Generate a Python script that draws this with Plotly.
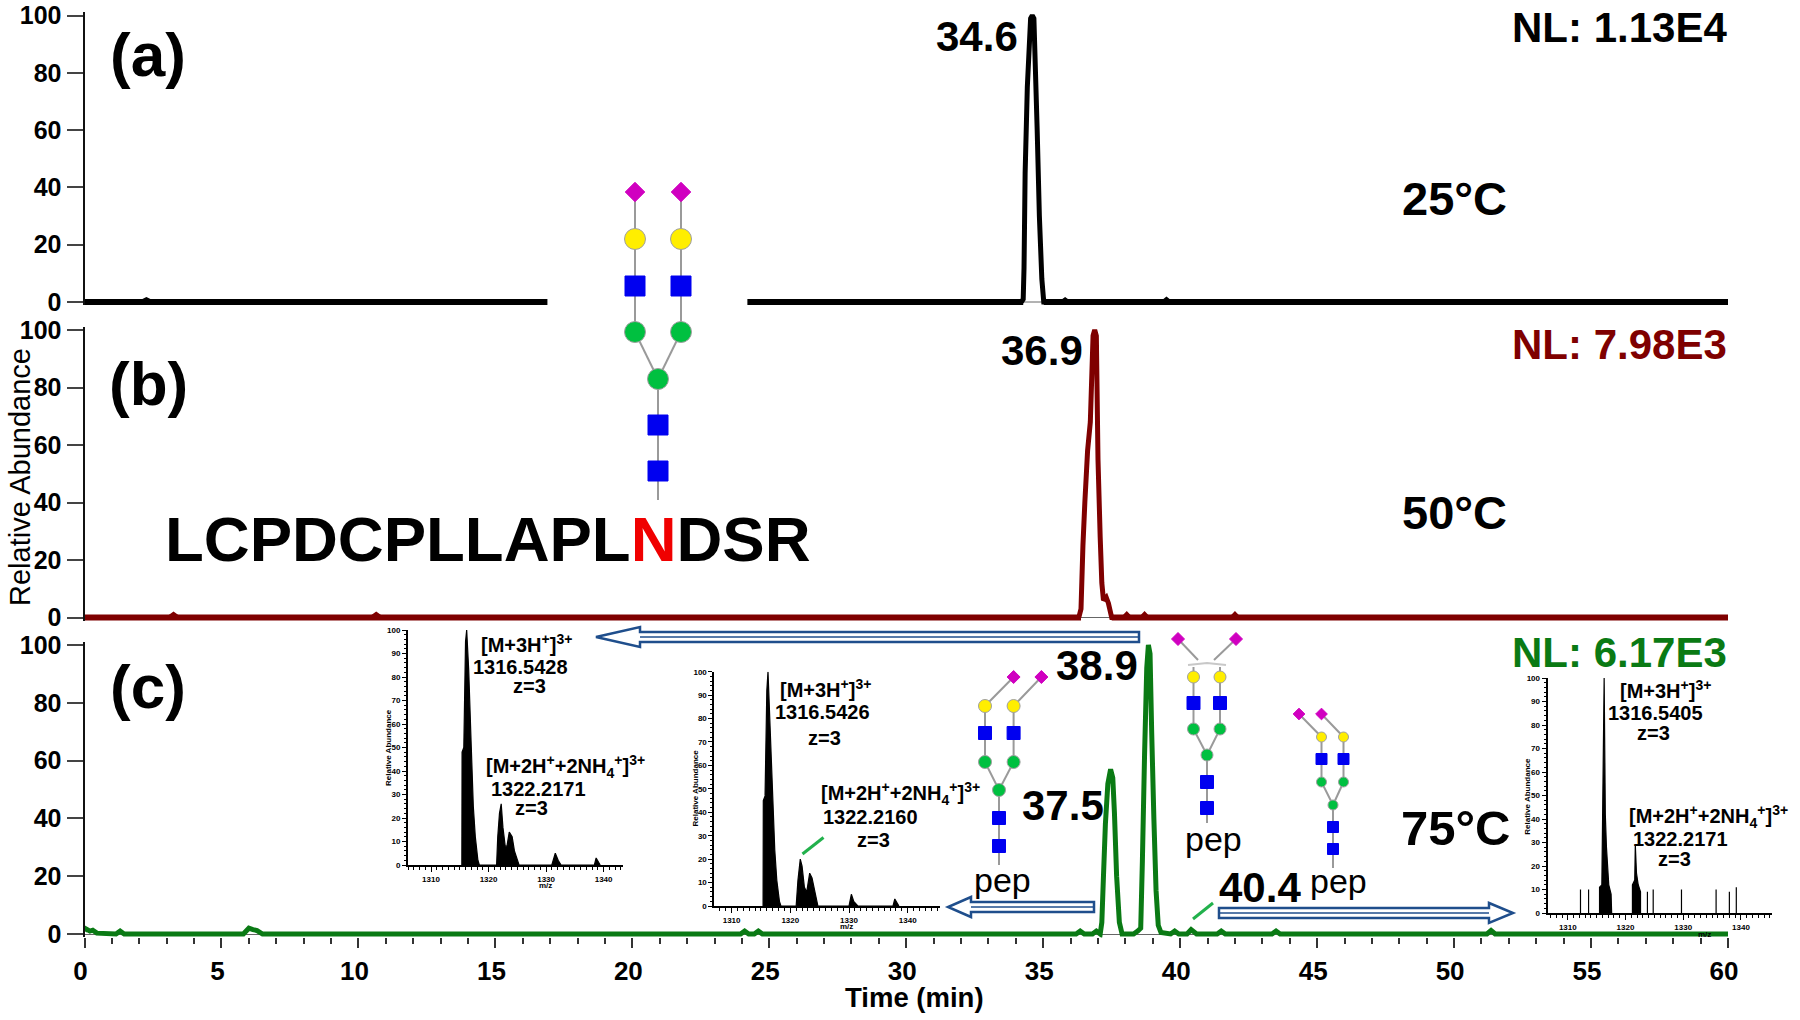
import plotly.graph_objects as go

W, H = 1800, 1020
FONT = "Liberation Sans"
BLACK, RED, GREEN = "#000000", "#7f0000", "#0a7a14"
ARROW = "#1f4e8c"

# ---- chromatogram data (time in min, relative abundance) ----
time_a = [2.1, 2.26, 2.42, None, 34.2, 34.27, 34.3, 34.34, 34.42, 34.54, 34.6, 34.66, 34.78, 34.86, 34.95, 35.02, 35.1, None,
          35.7, 35.8, 35.9, None, 39.4, 39.5, 39.6]
abund_a = [0, 0.8, 0, None, 0, 1, 12, 45, 75, 99, 100, 99, 60, 30, 8, 0, 0, None, 0, 0.7, 0, None, 0, 0.8, 0]
base_a_t = [0, 16.9, None, 24.2, 34.27, None, 35.02, 60]
floor_a_t = [34.2, 35.1]

time_b = [3.1, 3.25, 3.4, None, 10.5, 10.65, 10.8, None, 36.3, 36.38, 36.45, 36.52, 36.62, 36.72, 36.82, 36.88, 36.94, 37.0, 37.08, 37.14, 37.2,
          37.3, 37.38, 37.5, 37.6, None, 37.95, 38.05, 38.15, None, 38.6, 38.7, 38.8, None, 41.9, 42.0, 42.1]
abund_b = [0, 1, 0, None, 0, 1, 0, None, 0, 3, 25, 40, 58, 68, 98, 100, 98, 55, 28, 12, 6, 7, 5, 0, 0, None, 0, 1, 0, None, 0, 1, 0, None, 0, 1, 0]
base_b_t = [0, 36.38, None, 37.5, 60]

time_c = [0, 0.05, 0.2, 0.3, 0.45, 1.15, 1.3, 1.45, 5.8, 6.0, 6.15, 6.3, 6.5, 23.95, 24.1, 24.25, 24.45, 24.6, 24.75,
          36.2, 36.35, 36.5, 36.8, 36.94, 37.08, 37.14, 37.2, 37.27, 37.36, 37.46, 37.54, 37.6, 37.68, 37.78, 37.88, 38.3, 38.45, 38.56,
          38.62, 38.7, 38.78, 38.84, 38.9, 38.96, 39.04, 39.12, 39.2, 39.3, 39.65, 39.8, 39.95, 40.25, 40.4, 40.6, 41.35, 41.5, 41.65,
          43.35, 43.5, 43.65, 51.2, 51.35, 51.5, 60]
abund_c = [1, 1.8, 1, 1.3, 0.3, 0, 1, 0, 0, 2, 1.5, 1.2, 0, 0, 1, 0, 0, 1, 0,
           0, 1, 0, 0, 1, 0, 4, 20, 38, 52, 57, 54, 42, 20, 4, 0, 0, 1, 2,
           25, 62, 92, 100, 97, 70, 40, 15, 3, 0.5, 0, 1, 0, 0, 1.5, 0, 0, 1, 0,
           0, 1, 0, 0, 1.2, 0, 0]

major_y = [0, 20, 40, 60, 80, 100]
major_x = list(range(0, 61, 5))

# ---- inset mass spectra (m/z, relative abundance) ----
mz_1 = [1315.36, 1315.4, 1315.7, 1316.0, 1316.2, 1316.55, 1317.0, 1317.35, 1317.7, 1318.15, 1318.4, 1321.4, 1321.6, 1321.9, 1322.2, 1322.5, 1322.9,
        1323.2, 1323.6, 1324.1, 1324.5, 1325.1, 1325.3, 1331.0, 1331.6, 1332.1, 1332.6, 1338.4, 1338.7, 1339.4]
int_1 = [0, 48, 50, 95, 100, 83, 50, 25, 12, 2, 0, 0, 12, 22, 26, 16, 8, 8, 14, 12, 6, 1, 0, 0, 5, 2, 0, 0, 3, 0]
mz_2 = [1315.36, 1315.4, 1315.7, 1316.0, 1316.2, 1316.55, 1317.0, 1317.35, 1317.7, 1318.15, 1318.4, 1321.0, 1321.3, 1321.7, 1322.0, 1322.4, 1322.8,
        1323.3, 1323.7, 1324.1, 1324.5, 1324.7, 1330.0, 1330.4, 1330.8, 1331.5, 1337.5, 1337.8, 1338.5]
int_2 = [0, 45, 47, 92, 100, 75, 45, 24, 11, 2, 0, 0, 11, 20, 17, 8, 6, 14, 12, 7, 1, 0, 0, 5, 2, 0, 0, 3, 0]
mz_3 = [1312.2, 1312.2, 1312.2, None, 1313.6, 1313.6, 1313.6, None, 1315.5, 1315.5, 1315.9, 1316.1, 1316.3, 1316.5, 1316.7, 1317.1, 1317.5, 1317.6, None,
        1321.2, 1321.2, 1321.6, 1321.7, 1321.9, 1322.2, 1322.6, 1322.6, None, 1323.8, 1323.8, 1323.8, None, 1324.8, 1324.8, 1324.8, None,
        1329.7, 1329.7, 1329.7, None, 1335.7, 1335.7, 1335.7, None, 1338.0, 1338.0, 1338.0, None, 1339.2, 1339.2, 1339.2]
int_3 = [0, 10, 0, None, 0, 10, 0, None, 0, 11, 12, 60, 100, 42, 28, 12, 8, 0, None,
         0, 12, 14, 29, 17, 12, 9, 0, None, 0, 9, 0, None, 0, 10, 0, None, 0, 10, 0, None, 0, 10, 0, None, 0, 9, 0, None, 0, 11, 0]


def fx(p):
    return p / W


def fy(p):
    return 1 - p / H


X0, X1 = 84.5, 1728
PAD = 1.2   # head-room in data units so the thick trace is not cut at the axis limits
fig = go.Figure()

# --- axes ---
layout = dict(
    width=W, height=H, margin=dict(l=0, r=0, t=0, b=0, pad=0, autoexpand=False), showlegend=False,
    paper_bgcolor="white", plot_bgcolor="rgba(0,0,0,0)",
    font=dict(family=FONT, color="black"),
)
layout["xaxis"] = dict(
    domain=[fx(X0), fx(X1)], range=[0, 60], anchor="y3", showgrid=False, zeroline=False, showline=False,
    tickmode="array", tickvals=major_x, ticks="outside", ticklen=10, tickwidth=2, tickcolor="#333",
    minor=dict(dtick=1, ticks="outside", ticklen=6, tickwidth=2, tickcolor="#333", showgrid=False),
    tickfont=dict(size=26, family=FONT, weight="bold"), ticklabelshift=-4, ticklabelstandoff=0,
)
for name, top, bot, zl in (("yaxis", 15.5, 302, False), ("yaxis2", 330, 617.5, True), ("yaxis3", 645, 934, True)):
    s = (bot - top) / 100
    layout[name] = dict(
        domain=[fy(bot + PAD * s), fy(top - PAD * s)], range=[-PAD, 100 + PAD], anchor="x", showgrid=False,
        zeroline=zl, zerolinecolor="#666", zerolinewidth=1,
        showline=True, linecolor="#111", linewidth=2,
        tickmode="array", tickvals=major_y, ticks="outside", ticklen=16, tickwidth=2, tickcolor="#444",
        tickfont=dict(size=25, family=FONT, weight="bold"),
    )
# full-page overlay used for the glycan cartoons (pixel units)
layout["xaxis2"] = dict(domain=[0, 1], range=[0, W], anchor="y4", visible=False, fixedrange=True)
layout["yaxis4"] = dict(domain=[0, 1], range=[H, 0], anchor="x2", visible=False, fixedrange=True)

insets = [
    ("xaxis3", "yaxis5", "x3", "y5", 408, 622.6, 630, 865, 1306.0, 1343.3, mz_1, int_1),
    ("xaxis4", "yaxis6", "x4", "y6", 714.4, 940, 671.7, 906, 1307.07, 1345.5, mz_2, int_2),
    ("xaxis5", "yaxis7", "x5", "y7", 1547.6, 1771.5, 678, 913, 1306.5, 1345.3, mz_3, int_3),
]
for xn, yn, xr, yr, l, r, t, b, lo, hi, mz, ab in insets:
    layout[xn] = dict(
        domain=[fx(l), fx(r)], range=[lo, hi], anchor=yr, showgrid=False, zeroline=False,
        showline=True, linecolor="black", linewidth=2,
        tickmode="array", tickvals=[1310, 1320, 1330, 1340], ticks="outside", ticklen=5, tickwidth=1, tickcolor="black",
        minor=dict(dtick=1, ticks="outside", ticklen=3, tickwidth=1, tickcolor="black", showgrid=False),
        tickfont=dict(size=8, family=FONT, weight="bold"),
    )
    layout[yn] = dict(
        domain=[fy(b), fy(t)], range=[0, 100], anchor=xr, showgrid=False, zeroline=False,
        showline=True, linecolor="black", linewidth=2,
        tickmode="array", tickvals=list(range(0, 101, 10)), ticks="outside", ticklen=4, tickwidth=1, tickcolor="black",
        minor=dict(dtick=2, ticks="outside", ticklen=2, tickwidth=1, tickcolor="black", showgrid=False),
        tickfont=dict(size=8, family=FONT, weight="bold"),
    )
    fig.add_trace(go.Scatter(x=mz, y=ab, xaxis=xr, yaxis=yr, mode="lines", fill="tozeroy",
                             fillcolor="black", line=dict(color="black", width=1.2), hoverinfo="skip"))

# --- chromatograms ---
fig.add_trace(go.Scatter(x=floor_a_t, y=[0] * len(floor_a_t), xaxis="x", yaxis="y", mode="lines",
                         line=dict(color="#666", width=1), hoverinfo="skip"))
for xs, ys, base, yr, col, w in ((time_a, abund_a, base_a_t, "y", BLACK, 5), (time_b, abund_b, base_b_t, "y2", RED, 5)):
    fig.add_trace(go.Scatter(x=xs, y=ys, xaxis="x", yaxis=yr, mode="lines", connectgaps=False,
                             line=dict(color=col, width=w, simplify=False), hoverinfo="skip"))
    fig.add_trace(go.Scatter(x=base, y=[None if t is None else 0 for t in base], xaxis="x", yaxis=yr, mode="lines", connectgaps=False,
                             line=dict(color=col, width=6), hoverinfo="skip"))
fig.add_trace(go.Scatter(x=time_c, y=abund_c, xaxis="x", yaxis="y3", mode="lines",
                         line=dict(color=GREEN, width=5, simplify=False), hoverinfo="skip"))


# --- glycans ---
def glycan(cx, arms, dia, y_dia, y_gal, y_nac, y_man, y_core, y_n1, y_n2, y_end, sizes, bar=None, dia_end=None):
    a, b = arms
    sq, ci, di = sizes
    lx, ly = [], []
    for i, (da, ar) in enumerate(zip(dia, arms)):
        if dia_end:
            lx += [da, dia_end[0][i], None, ar, ar, None]
            ly += [y_dia, dia_end[1], None, y_gal - 10, y_man, None]
        else:
            lx += [da, ar, ar, None]
            ly += [y_dia, y_gal, y_man, None]
        lx += [ar, cx, None]
        ly += [y_man, y_core, None]
    lx += [cx, cx]
    ly += [y_core, y_end]
    fig.add_trace(go.Scatter(x=lx, y=ly, xaxis="x2", yaxis="y4", mode="lines", line=dict(color="#9a9a9a", width=2), hoverinfo="skip"))
    if bar:
        fig.add_trace(go.Scatter(x=bar[0], y=bar[1], xaxis="x2", yaxis="y4", mode="lines",
                                 line=dict(color="#c8c8c8", width=2), hoverinfo="skip"))
    for xs, ys, sym, col, s in (
        (dia, [y_dia] * 2, "diamond", "#d000c0", di),
        ([a, b], [y_gal] * 2, "circle", "#ffee00", ci),
        ([a, b], [y_nac] * 2, "square", "#0000f0", sq),
        ([a, b, cx], [y_man, y_man, y_core], "circle", "#00c040", ci),
        ([cx, cx], [y_n1, y_n2], "square", "#0000f0", sq),
    ):
        border = "#a0a0a0" if sym == "circle" else col
        fig.add_trace(go.Scatter(x=xs, y=ys, xaxis="x2", yaxis="y4", mode="markers", hoverinfo="skip",
                                 marker=dict(symbol=sym, color=col, size=s, line=dict(color=border, width=1))))


glycan(658, (635, 681), (635, 681), 192, 239, 286, 332, 379, 425, 471, 500, (20, 21, 15))
glycan(999, (985, 1013.6), (1013.6, 1041.4), 677, 706, 733, 762, 790, 818, 846, 865, (13, 13, 10))
glycan(1207, (1193.5, 1220), (1178, 1236), 639, 677, 703, 729, 755, 782, 808, 823, (13, 12, 10),
       bar=([1188, 1207, 1226], [665, 663, 665]), dia_end=((1198, 1214), 660))
glycan(1333, (1321.5, 1343.5), (1299, 1321.5), 714, 737, 759, 782, 805, 827, 849, 868, (11, 10, 9))

# --- arrows and pointer strokes ---
shapes = []


def arrow(x_tail, x_tip, y, x_back, hs=5, hh=10):
    pts = [(x_tail, y - hs), (x_back, y - hs), (x_back, y - hh), (x_tip, y), (x_back, y + hh), (x_back, y + hs), (x_tail, y + hs)]
    path = "M " + " L ".join(f"{fx(a):.5f},{fy(b):.5f}" for a, b in pts) + " Z"
    shapes.append(dict(type="path", xref="paper", yref="paper", path=path, line=dict(color=ARROW, width=2.5), fillcolor="white"))
    shapes.append(dict(type="line", xref="paper", yref="paper", x0=fx(x_tail), x1=fx(x_back), y0=fy(y), y1=fy(y),
                       line=dict(color=ARROW, width=1.5)))


arrow(1139, 596, 637, 640)
arrow(1094, 948, 907, 971)
arrow(1219, 1513, 913, 1489)
for x0, y0, x1, y1 in ((802.5, 854, 823.5, 837.5), (1193, 919, 1213, 903)):
    shapes.append(dict(type="line", xref="paper", yref="paper", x0=fx(x0), y0=fy(y0), x1=fx(x1), y1=fy(y1),
                       line=dict(color="#22b14c", width=3)))
layout["shapes"] = shapes

# --- text ---
anns = []


def txt(s, x, y, size, color="black", bold=True, angle=0):
    anns.append(dict(text=s, x=fx(x), y=fy(y), xref="paper", yref="paper", showarrow=False, xanchor="center", yanchor="middle",
                     textangle=angle, font=dict(size=size, color=color, family=FONT, weight="bold" if bold else "normal")))


for s, y in (("(a)", 54), ("(b)", 383), ("(c)", 686)):
    txt(s, 148, y, 62)
txt("LCPDCPLLAPL<span style='color:#f00000'>N</span>DSR", 488, 539, 63.5)
txt("NL: 1.13E4", 1619, 27, 42, BLACK)
txt("NL: 7.98E3", 1619, 344, 42, RED)
txt("NL: 6.17E3", 1619, 652, 42, GREEN)
txt("25°C", 1454, 199, 47)
txt("50°C", 1454, 512, 47)
txt("75°C", 1455, 828, 49)
txt("34.6", 977, 37, 42)
txt("36.9", 1042, 350, 42)
txt("38.9", 1097, 665, 42)
txt("37.5", 1063, 805, 42)
txt("40.4", 1260, 887, 42)
txt("Relative Abundance", 20, 477, 29, bold=False, angle=-90)
txt("Time (min)", 914, 997, 27.5)
for x, y in ((1002, 880), (1213, 839), (1338, 881)):
    txt("pep", x, y, 34, bold=False)

M3 = "[M+3H<sup>+</sup>]<sup>3+</sup>"
M2 = "[M+2H<sup>+</sup>+2NH<sub>4</sub><sup>+</sup>]<sup>3+</sup>"
for s, x, y in (
    (M3, 526, 643), ("1316.5428", 520, 667), ("z=3", 529, 686),
    (M2, 565, 766), ("1322.2171", 538, 789), ("z=3", 531, 808),
    (M3, 825, 688), ("1316.5426", 822, 712), ("z=3", 824, 738),
    (M2, 900, 793), ("1322.2160", 870, 817), ("z=3", 873, 840),
    (M3, 1665, 689), ("1316.5405", 1655, 713), ("z=3", 1653, 733),
    (M2, 1708, 816), ("1322.2171", 1680, 839), ("z=3", 1674, 859),
):
    txt(s, x, y, 20)
for x, y in ((388, 748), (694.5, 788), (1526.7, 796)):
    txt("Relative Abundance", x, y, 8, angle=-90)
for x, y in ((545, 885), (846.5, 926), (1704.5, 934)):
    txt("m/z", x, y, 8)
layout["annotations"] = anns

fig.update_layout(**layout)
fig.write_html("out.html", post_script="document.body.style.margin='0';document.body.style.overflow='hidden';", config=dict(displayModeBar=False))
